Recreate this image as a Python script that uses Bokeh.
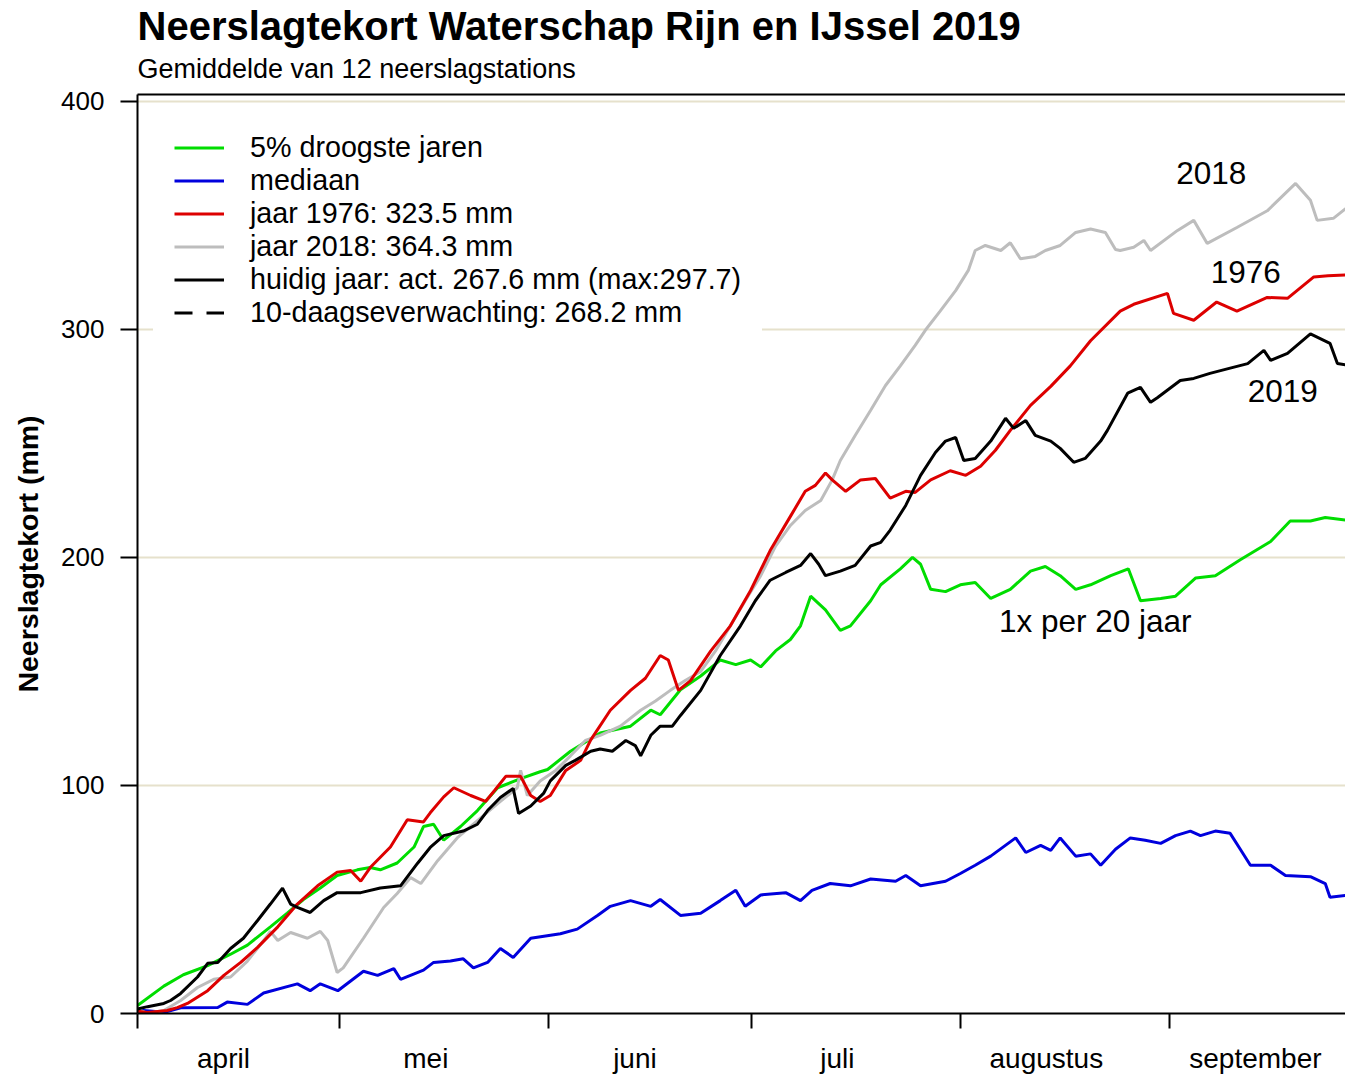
from bokeh.plotting import figure
from bokeh.models import (Range1d, LinearAxis, FixedTicker, Legend, LegendItem,
                          Title, Grid)
from bokeh.embed import file_html
from bokeh.resources import INLINE
from bokeh.core.properties import value

# ---------------- data (days since 1 April, mm) ----------------
month_names = ["april", "mei", "juni", "juli", "augustus", "september"]
month_starts = [0, 30, 61, 91, 122, 153]
y_ticks = [0, 100, 200, 300, 400]

green_days = [0, 3.9, 6.8, 10.4, 13.8, 16.3, 19.7, 22.2, 24.6, 27.1, 29.6, 32.6, 34.5, 36, 38.5, 41, 42.4,
              43.9, 45.4, 47.9, 50.4, 53.4, 56.8, 59.7, 60.8, 64.2, 68.6, 73.1, 76.1, 77.5, 80.5, 83.5,
              86.4, 88.7, 90.9, 92.4, 94.6, 96.8, 98.3, 99.8, 102, 104.2, 105.7, 108.7, 110.2, 113.1,
              114.9, 116.1, 117.6, 119.8, 122, 124.2, 126.5, 129.4, 132.4, 134.6, 136.8, 139.1, 141.3,
              144.3, 146.9, 148.7, 151.7, 153.9, 156.9, 159.8, 163.5, 168, 170.9, 173.9, 176.1, 180]
green_vals = [3.5, 12, 17, 21, 26, 30, 38, 44, 50, 55, 60.5, 63, 64, 63, 66, 73, 82, 83, 76, 82, 89, 99,
              103, 106, 107, 115, 123, 126, 133, 131, 142, 148, 155, 153, 155, 152, 159, 164, 170, 183,
              177, 168, 170, 181, 188, 195, 200, 197, 186, 185, 188, 189, 182, 186, 194, 196, 192, 186,
              188, 192, 195, 181, 182, 183, 191, 192, 199, 207, 216, 216, 217.5, 216]

blue_days = [0, 4, 6.4, 11.9, 13.3, 16.3, 18.7, 23.7, 25.6, 27.1, 29.7, 33.5, 35.6, 38, 39, 42.4, 43.9,
             46.4, 48.3, 49.8, 51.9, 53.8, 55.7, 58.3, 62.7, 65.2, 68.2, 70.1, 73.1, 76.1, 77.5, 80.5,
             83.5, 86.4, 88.7, 90.1, 92.4, 96.1, 98.3, 100, 102.7, 105.7, 108.7, 112.4, 113.9, 116.1,
             119.8, 122, 124.2, 126.5, 130.2, 131.7, 133.9, 135.4, 136.8, 139.1, 141.3, 142.8, 145,
             147.2, 149.4, 151.7, 153.9, 156.1, 157.6, 159.8, 162, 163.5, 165, 168, 170.2, 173.9,
             176.1, 176.8, 180]
blue_vals = [1.5, 0.5, 2.5, 2.6, 5, 4, 9, 13, 10, 13, 10, 18.5, 16.7, 19.7, 15, 19, 22.4, 23, 24, 20,
             22.4, 28.5, 24.6, 33, 35, 37, 43, 47, 49.5, 47, 50, 43, 44, 49.5, 54, 47, 52, 53, 49.5, 54,
             57, 56, 59, 58, 60.5, 56, 58, 61.4, 65, 69, 77, 70.6, 73.7, 71.5, 77, 69, 70, 65, 72, 77,
             76, 74.6, 78, 80, 78, 80, 79, 72, 65, 65, 60.5, 60, 57, 51, 52]

red_days = [0, 1.5, 4.4, 5.9, 7.4, 10.4, 12.8, 15.3, 17.8, 20.8, 23.7, 26.7, 29.6, 31.6, 33.1, 34.5,
            37.5, 40, 42.4, 43.4, 45.4, 46.9, 49.4, 51.6, 53, 54.6, 56.8, 58.3, 59.7, 61.2, 63.5, 65.7,
            67.2, 70.1, 73.1, 75.3, 77.5, 78.7, 80.2, 82, 85, 87.9, 90.9, 93.8, 96.8, 99, 100.5, 102,
            103, 105, 107.2, 109.4, 111.6, 113.9, 115.3, 117.6, 120.5, 122.8, 125, 127.2, 129.4, 132.4,
            135.4, 138.3, 141.3, 145.7, 147.7, 152.7, 153.6, 156.6, 160, 163, 167.5, 170.5, 174.4,
            176.5, 180]
red_vals = [1, 0.4, 1.3, 2.6, 4.4, 10, 16.7, 22.4, 29, 38, 48, 56, 62, 62.7, 58, 64, 73, 85, 84, 88,
            95, 99, 95.6, 93, 98, 104, 104, 95.6, 93, 95.6, 106.6, 111, 120, 133, 141.7, 147, 157, 155,
            141.7, 146, 159, 170, 185.5, 203, 218, 229, 231.6, 237, 234, 229, 234, 234.6, 226, 229,
            228.5, 234, 238, 236, 240, 247, 255.7, 266.7, 275, 284, 295, 308, 311, 315.8, 307, 304,
            312, 308, 314, 313.6, 323, 323.5, 324]

gray_days = [0, 1.5, 3.9, 6.4, 8.9, 11.3, 13.8, 16.3, 18.7, 19.7, 20.8, 22.7, 25.2, 27.1, 28.2, 29.6,
             30.5, 33.5, 36.5, 38.5, 40.5, 42, 44.5, 47.4, 50.4, 53.4, 56.3, 56.8, 57.8, 59.7, 62,
             64.2, 66.4, 68.6, 71.6, 74.6, 76.8, 79, 81.2, 83.5, 85.7, 87.9, 90.1, 92.4, 94.6, 96.8,
             99, 101.3, 103, 104.2, 106.4, 108.7, 110.9, 113.1, 115.3, 116.8, 119, 121.3, 123.2,
             124.2, 125.7, 128, 129.4, 130.9, 133.1, 134.6, 136.8, 139.1, 141.3, 143.5, 145, 145.7,
             147.7, 149.2, 150.2, 154.2, 156.6, 158.6, 163, 167.5, 171.7, 173.9, 174.9, 177.3, 180]
gray_vals = [2, 0, 1.3, 5.7, 11.4, 15, 16, 23, 32, 36, 32, 35.5, 33, 36, 32, 18, 20, 33, 46.5, 52.6,
             59.6, 57, 67, 77, 84.6, 92, 99, 106.6, 95.6, 102, 106.6, 113, 119.7, 122, 126, 133, 137,
             141.7, 146, 150, 159, 170, 181, 192, 205, 214, 220.6, 225, 234, 242.5, 253.5, 264.5,
             275.4, 284, 293, 299.6, 308, 317, 326, 334.6, 336.8, 334.6, 338, 331, 332, 334.6, 336.8,
             342.5, 344, 342.5, 335, 334.6, 336, 339, 334.6, 343.4, 347.8, 337.7, 344.7, 352, 364,
             356.6, 347.8, 348.7, 355]

black_days = [0, 1.5, 3.9, 4.9, 6.4, 8.9, 10.4, 11.9, 13.8, 15.7, 17.8, 19.7, 21.5, 22.7, 23.7, 25.6,
              27.6, 29.6, 33.1, 36, 39, 41.5, 43.4, 45.4, 48.3, 50.4, 51.9, 53.8, 55.7, 56.5, 58.3,
              60.2, 61.2, 63.5, 64.9, 67.2, 68.6, 70.4, 72.4, 73.8, 74.6, 76.1, 77.5, 79.3, 80.5,
              83.5, 86.4, 89.4, 91.6, 93.8, 96.1, 98.3, 99.8, 101, 102, 104.2, 106.4, 108.7, 110.2,
              111.6, 113.9, 116.1, 118.3, 119.8, 121.3, 122.5, 124.2, 126.5, 128.7, 129.9, 131.7,
              133.1, 135.4, 136.8, 138.8, 140.5, 142.8, 143.8, 146.8, 148.7, 150.2, 151.2, 154.6,
              156.6, 159, 162, 164.6, 167, 168, 170.5, 173.9, 176.8, 177.9, 180]
black_vals = [2, 3, 4.4, 5.7, 8.8, 16, 22, 22.4, 28.5, 33, 40.8, 48, 55, 48, 46.5, 44.3, 49.5, 53, 53,
              55, 56, 65.8, 72.8, 78, 80, 83, 89, 94.7, 98.7, 87.7, 91, 96.5, 102, 108.8, 111, 115,
              116, 115, 119.7, 117.5, 113, 122, 126, 126, 130.7, 141.7, 157, 170, 181, 190, 193.4,
              196.5, 201.7, 197, 192, 194, 196.5, 205, 206.6, 212, 222.8, 236, 246, 251, 252.6, 242.5,
              243.4, 251, 261, 256.6, 260, 253.5, 251, 247.8, 241.7, 243.4, 251, 255.7, 272, 274.6,
              268, 270, 277.6, 278.5, 280.7, 283, 285, 290.8, 286.4, 289.5, 298, 293.9, 285, 284]

# 10-day forecast lies beyond the visible period
forecast_days = [182, 192]
forecast_vals = [267.6, 268.2]

legend_labels = ["5% droogste jaren", "mediaan", "jaar 1976: 323.5 mm", "jaar 2018: 364.3 mm",
                 "huidig jaar: act. 267.6 mm (max:297.7)", "10-daagseverwachting: 268.2 mm"]

FONT = "Liberation Sans"

p = figure(width=1345, height=1076, x_range=Range1d(0, 179.1), y_range=Range1d(0, 403),
           output_backend="svg", toolbar_location=None, x_axis_type=None, y_axis_type=None,
           min_border_left=137, min_border_right=0, min_border_top=94, min_border_bottom=63,
           title="Neerslagtekort Waterschap Rijn en IJssel 2019")
p.outline_line_color = None
p.background_fill_color = "white"
p.border_fill_color = "white"

p.title.text_font = FONT
p.title.text_font_size = "40px"
p.title.text_font_style = "bold"
p.title.text_color = "black"
p.title.align = "left"
p.title.standoff = -14

# top frame line
top_axis = LinearAxis(ticker=FixedTicker(ticks=[]), axis_line_color="black", axis_line_width=2,
                      major_tick_out=0, major_tick_in=0, minor_tick_out=0, minor_tick_in=0,
                      major_label_text_font_size="0px", major_label_standoff=0)
p.add_layout(top_axis, "above")
p.add_layout(Title(text="Gemiddelde van 12 neerslagstations", text_font=FONT, text_color="black",
                   text_font_size="27px", text_font_style="normal", align="left", standoff=22), "above")

# y axis
yaxis = LinearAxis(ticker=FixedTicker(ticks=y_ticks), axis_label="Neerslagtekort (mm)",
                   axis_label_text_font=FONT, axis_label_text_font_size="28.5px",
                   axis_label_text_font_style="bold", axis_label_text_color="black",
                   axis_label_standoff=14,
                   axis_line_width=2, major_tick_line_width=2, major_tick_out=17, major_tick_in=0,
                   minor_tick_line_color=None, major_label_text_font=FONT,
                   major_label_text_color="black",
                   major_label_text_font_size="26px", major_label_standoff=16)
p.add_layout(yaxis, "left")
p.add_layout(Grid(dimension=1, ticker=FixedTicker(ticks=y_ticks[1:]), grid_line_color="#e6e1cc",
                  grid_line_width=2))

# x axis: ticks at month starts, labels mid-month
label_pos = [m + 12.75 for m in month_starts]
xaxis = LinearAxis(ticker=FixedTicker(ticks=label_pos, minor_ticks=month_starts),
                   major_label_overrides={lp: nm for lp, nm in zip(label_pos, month_names)},
                   axis_line_width=2, major_tick_line_color=None, major_tick_out=0, major_tick_in=0,
                   minor_tick_line_color="black", minor_tick_line_width=2, minor_tick_out=15,
                   minor_tick_in=0, major_label_text_font=FONT, major_label_text_font_size="28px",
                   major_label_text_color="black", major_label_standoff=14)
p.add_layout(xaxis, "below")

lw = 3
r_green = p.line(green_days, green_vals, line_color="#00dd00", line_width=lw)
r_blue = p.line(blue_days, blue_vals, line_color="#0000dd", line_width=lw)
r_gray = p.line(gray_days, gray_vals, line_color="#bdbdbd", line_width=lw)
r_red = p.line(red_days, red_vals, line_color="#dd0000", line_width=lw)
r_black = p.line(black_days, black_vals, line_color="black", line_width=lw)
r_fc = p.line(forecast_days, forecast_vals, line_color="black", line_width=lw, line_dash="18 14")

ann_font = value("31.5px")
p.text(x=[159.2], y=[368.4], text=["2018"], text_align="center", text_baseline="middle",
       text_font=value(FONT), text_font_size=ann_font, text_color="black")
p.text(x=[164.3], y=[325], text=["1976"], text_align="center", text_baseline="middle",
       text_font=value(FONT), text_font_size=ann_font, text_color="black")
p.text(x=[169.8], y=[273], text=["2019"], text_align="center", text_baseline="middle",
       text_font=value(FONT), text_font_size=ann_font, text_color="black")
p.text(x=[142], y=[172], text=["1x per 20 jaar"], text_align="center", text_baseline="middle",
       text_font=value(FONT), text_font_size=ann_font, text_color="black")

renderers = [r_green, r_blue, r_red, r_gray, r_black, r_fc]
legend = Legend(items=[LegendItem(label=l, renderers=[r]) for l, r in zip(legend_labels, renderers)],
                location="top_left", background_fill_color="white", background_fill_alpha=1,
                border_line_color="white", border_line_width=1,
                glyph_width=50, glyph_height=33, label_height=33,
                label_standoff=26, spacing=0, padding=20, margin=16,
                label_text_font=FONT, label_text_font_size="28.7px", label_text_color="black")
p.add_layout(legend)

open("out.html", "w").write(file_html(p, INLINE))
